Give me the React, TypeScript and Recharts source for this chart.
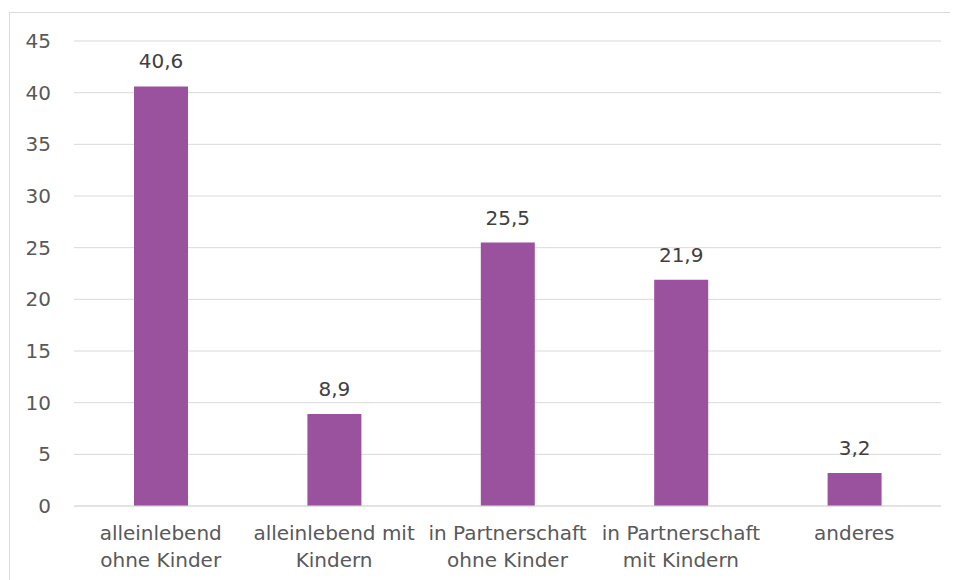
import React from "react";
import { BarChart, Bar, XAxis, YAxis, CartesianGrid, LabelList } from "recharts";

const categories = [
  "alleinlebend\nohne Kinder",
  "alleinlebend mit\nKindern",
  "in Partnerschaft\nohne Kinder",
  "in Partnerschaft\nmit Kindern",
  "anderes",
];
const shares = [40.6, 8.9, 25.5, 21.9, 3.2];
const yTicks = [0, 5, 10, 15, 20, 25, 30, 35, 40, 45];

const data = categories.map((name, i) => ({ name, value: shares[i] }));

const FONT = "'DejaVu Sans', Verdana, sans-serif";

const CategoryTick = (props: any) => {
  const { x, y, payload } = props;
  const lines = String(payload.value).split("\n");
  return (
    <text x={x} y={y} textAnchor="middle" fill="#595959" fontSize={20} fontFamily={FONT}>
      {lines.map((line, i) => (
        <tspan key={i} x={x} dy={i === 0 ? 34 : 27}>
          {line}
        </tspan>
      ))}
    </text>
  );
};

export default function App() {
  return (
    <div
      style={{
        marginTop: 4,
        marginLeft: 1,
        width: 949,
        height: 568,
        borderTop: "1px solid #d9d9d9",
        borderLeft: "1px solid #d9d9d9",
        boxSizing: "border-box",
        overflow: "hidden",
      }}
    >
      <BarChart
        width={948}
        height={567}
        data={data}
        margin={{ top: 28, right: 17, left: 0, bottom: 0 }}
        style={{ fontFamily: FONT }}
      >
        <CartesianGrid vertical={false} stroke="#d9d9d9" strokeWidth={1} />
        <XAxis
          dataKey="name"
          height={74}
          interval={0}
          axisLine={{ stroke: "#d9d9d9", strokeWidth: 1 }}
          tickLine={false}
          tickSize={0}
          tickMargin={0}
          tick={<CategoryTick />}
        />
        <YAxis
          width={64}
          domain={[0, 45]}
          ticks={yTicks}
          axisLine={false}
          tickLine={false}
          tickSize={0}
          tickMargin={23}
          tick={{ fill: "#595959", fontSize: 20, fontFamily: FONT }}
        />
        <Bar dataKey="value" fill="#9b529e" barSize={54} isAnimationActive={false}>
          <LabelList
            dataKey="value"
            position="top"
            offset={18}
            fill="#404040"
            fontSize={20}
            fontFamily={FONT}
            formatter={(v: any) => String(v).replace(".", ",")}
          />
        </Bar>
      </BarChart>
    </div>
  );
}
